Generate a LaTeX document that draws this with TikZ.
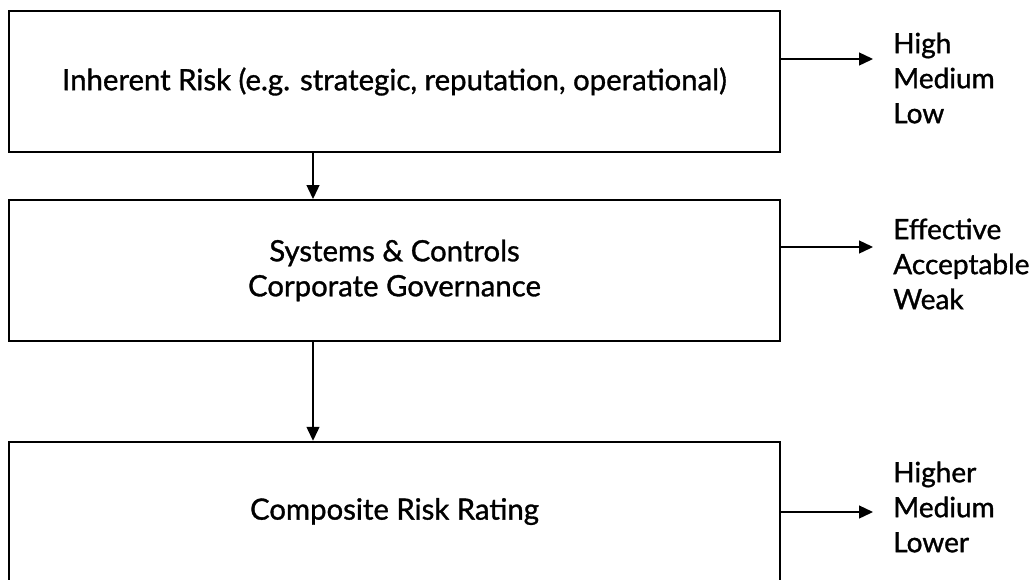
\documentclass[tikz,border=0pt]{standalone}
\usepackage{fontspec}
\setmainfont{Lato}[FakeBold=1.1]
\usetikzlibrary{arrows.meta}
\begin{document}
\begin{tikzpicture}[x=0.75pt,y=-0.75pt,
  box/.style={draw=black,line width=1.5pt,minimum width=578.25pt,inner sep=0pt,font=\fontsize{22}{26.25}\selectfont,align=center},
  arr/.style={line width=1pt,-{Triangle[length=10.5pt,width=9.75pt]}},
  lbl/.style={anchor=west,align=left,inner sep=0pt,font=\fontsize{21}{26.25}\selectfont}]
\useasboundingbox (0,0) rectangle (1034,579);
\clip (0,0) rectangle (1034,579);
\node[box,minimum height=105.75pt] (b1) at (394.5,81.5) {\raisebox{3.5pt}{Inherent Risk (e.g. strategic, reputation, operational)}};
\node[box,minimum height=105.75pt] (b2) at (394.5,270.5) {Systems \& Controls\\Corporate Governance};
\node[box,minimum height=104.6pt] (b3) at (394.5,511.5) {Composite Risk Rating};
\node[lbl] (l1) at (893,78) {High\\Medium\\Low};
\node[lbl] (l2) at (893,264) {Effective\\Acceptable\\Weak};
\node[lbl] (l3) at (893,507) {Higher\\Medium\\Lower};
\coordinate (e1) at (873,59);
\coordinate (e2) at (873,247);
\coordinate (e3) at (873,512);
\draw[arr] (b1.east |- e1) -- (e1);
\draw[arr] (b2.east |- e2) -- (e2);
\draw[arr] (b3.east |- e3) -- (e3);
\draw[arr] (b1.south -| 313,0) -- (b2.north -| 313,0);
\draw[arr] (b2.south -| 313,0) -- (b3.north -| 313,0);
\end{tikzpicture}
\end{document}
